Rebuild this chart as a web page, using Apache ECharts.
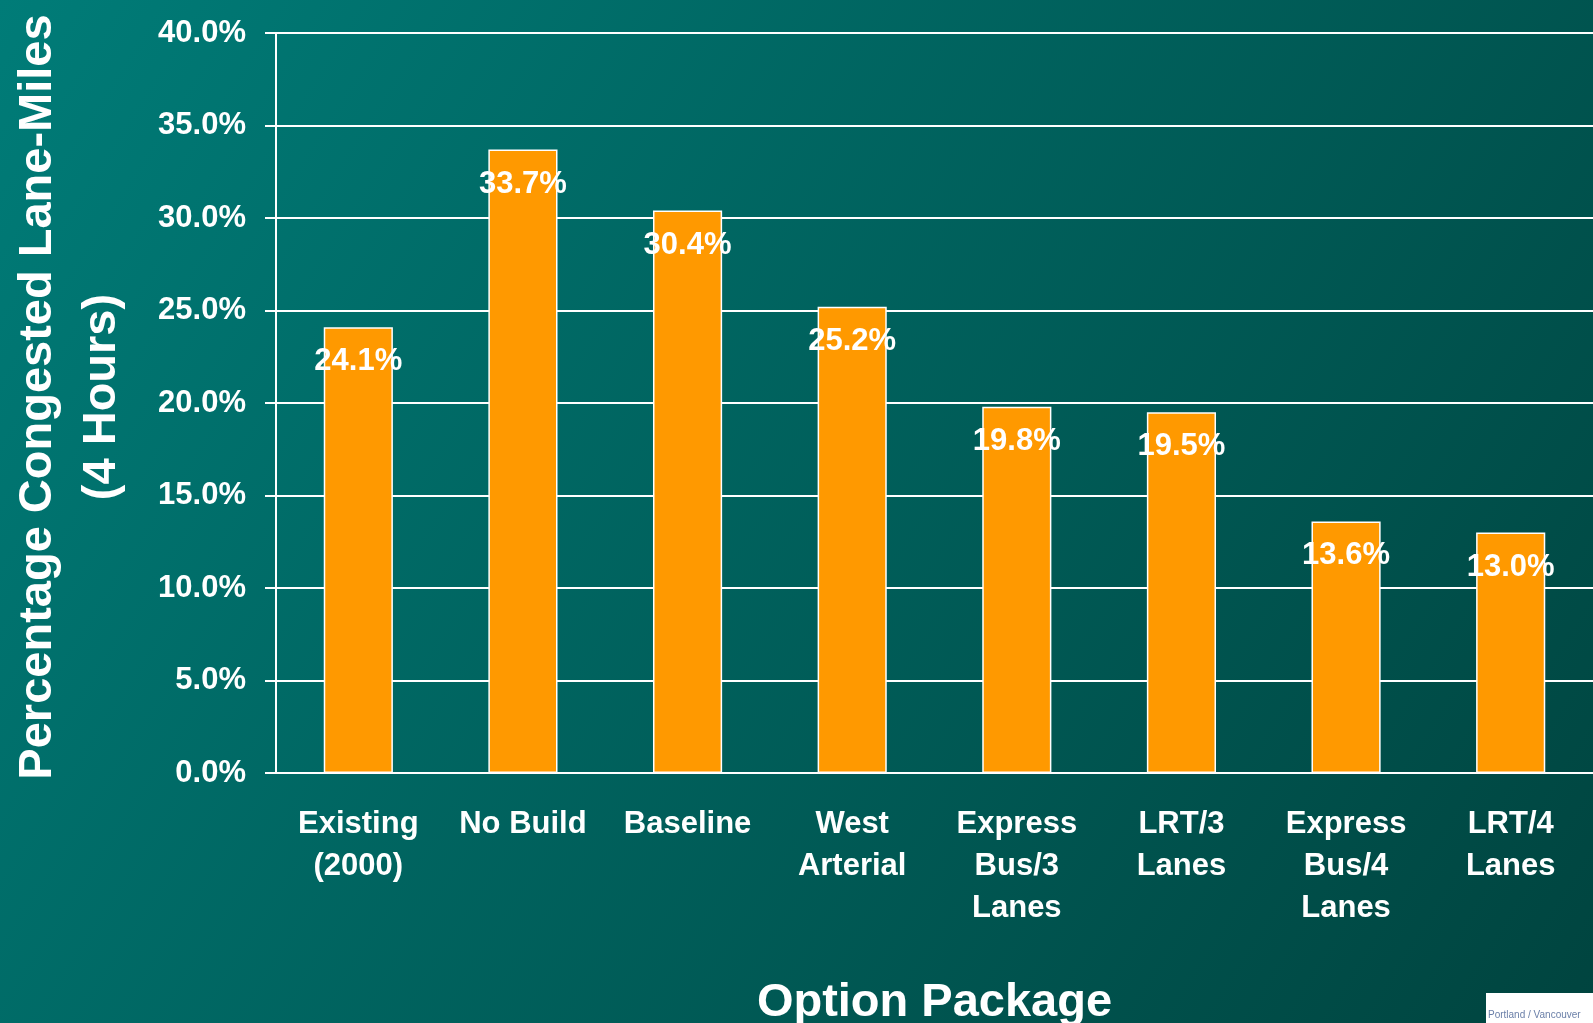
<!DOCTYPE html>
<html>
<head>
<meta charset="utf-8">
<script src="https://cdn.jsdelivr.net/npm/echarts@6/dist/echarts.min.js"></script>
<style>
  html, body { margin: 0; padding: 0; }
  #chart { width: 1593px; height: 1023px; }
</style>
</head>
<body>
<div id="chart"></div>
<script>
// option packages along the x axis
var categories = [
  'Existing\n(2000)', 'No Build', 'Baseline', 'West\nArterial',
  'Express\nBus/3\nLanes', 'LRT/3\nLanes', 'Express\nBus/4\nLanes', 'LRT/4\nLanes'
];
// percentage congested lane-miles
var congested = [24.1, 33.7, 30.4, 25.2, 19.8, 19.5, 13.6, 13.0];
var yTicks = [0, 5, 10, 15, 20, 25, 30, 35, 40];

var font = 'Arial';
var myChart = echarts.init(document.getElementById('chart'));

var option = {
  backgroundColor: {
    type: 'linear', x: 0, y: 0, x2: 1, y2: 1,
    colorStops: [
      { offset: 0, color: '#007c78' },
      { offset: 1, color: '#00443f' }
    ]
  },
  textStyle: { fontFamily: font },
  grid: { left: 276, right: 0, top: 33, bottom: 250, outerBoundsMode: 'none' },
  xAxis: {
    type: 'category',
    data: categories,
    name: 'Option Package',
    nameLocation: 'middle',
    nameGap: 207,
    nameTextStyle: { color: '#fff', fontSize: 47, fontWeight: 'bold', fontFamily: font },
    axisLine: { lineStyle: { color: '#fff', width: 2 } },
    axisTick: { length: 11, lineStyle: { color: '#fff', width: 2 } },
    axisLabel: {
      color: '#fff', fontSize: 31, fontWeight: 'bold', fontFamily: font,
      lineHeight: 42, margin: 30, interval: 0
    }
  },
  yAxis: {
    type: 'value',
    min: yTicks[0],
    max: yTicks[yTicks.length - 1],
    interval: 5,
    name: 'Percentage Congested Lane-Miles\n(4 Hours)',
    nameLocation: 'middle',
    nameRotate: 90,
    nameGap: 142,
    nameTextStyle: {
      color: '#fff', fontSize: 47, fontWeight: 'bold', fontFamily: font, lineHeight: 64,
      padding: [0, 0, 0, 12]
    },
    axisLine: { show: true, lineStyle: { color: '#fff', width: 2 } },
    axisTick: { show: true, length: 11, lineStyle: { color: '#fff', width: 2 } },
    axisLabel: {
      color: '#fff', fontSize: 31, fontWeight: 'bold', fontFamily: font, margin: 30,
      padding: [10, 0, 0, 0],
      formatter: function (v) { return v.toFixed(1) + '%'; }
    },
    splitLine: { lineStyle: { color: '#fff', width: 2 } }
  },
  series: [
    {
      type: 'bar',
      data: congested,
      barWidth: '42%',
      itemStyle: { color: '#ff9900', borderColor: '#fff', borderWidth: 1.5 },
      label: {
        show: true,
        position: 'insideTop',
        distance: 19,
        color: '#fff',
        fontSize: 31,
        fontWeight: 'bold',
        fontFamily: font,
        formatter: function (p) { return p.value.toFixed(1) + '%'; }
      }
    }
  ],
  graphic: [
    {
      type: 'rect',
      left: 1486, top: 993,
      shape: { width: 120, height: 32 },
      style: { fill: '#ffffff' }
    },
    {
      type: 'text',
      left: 1488, top: 1010,
      style: { text: 'Portland / Vancouver', fill: '#6a7fa8', fontSize: 10, fontFamily: font }
    }
  ]
};

myChart.setOption(option);
window.addEventListener('resize', function () {
  myChart.resize();
});
</script>
</body>
</html>
